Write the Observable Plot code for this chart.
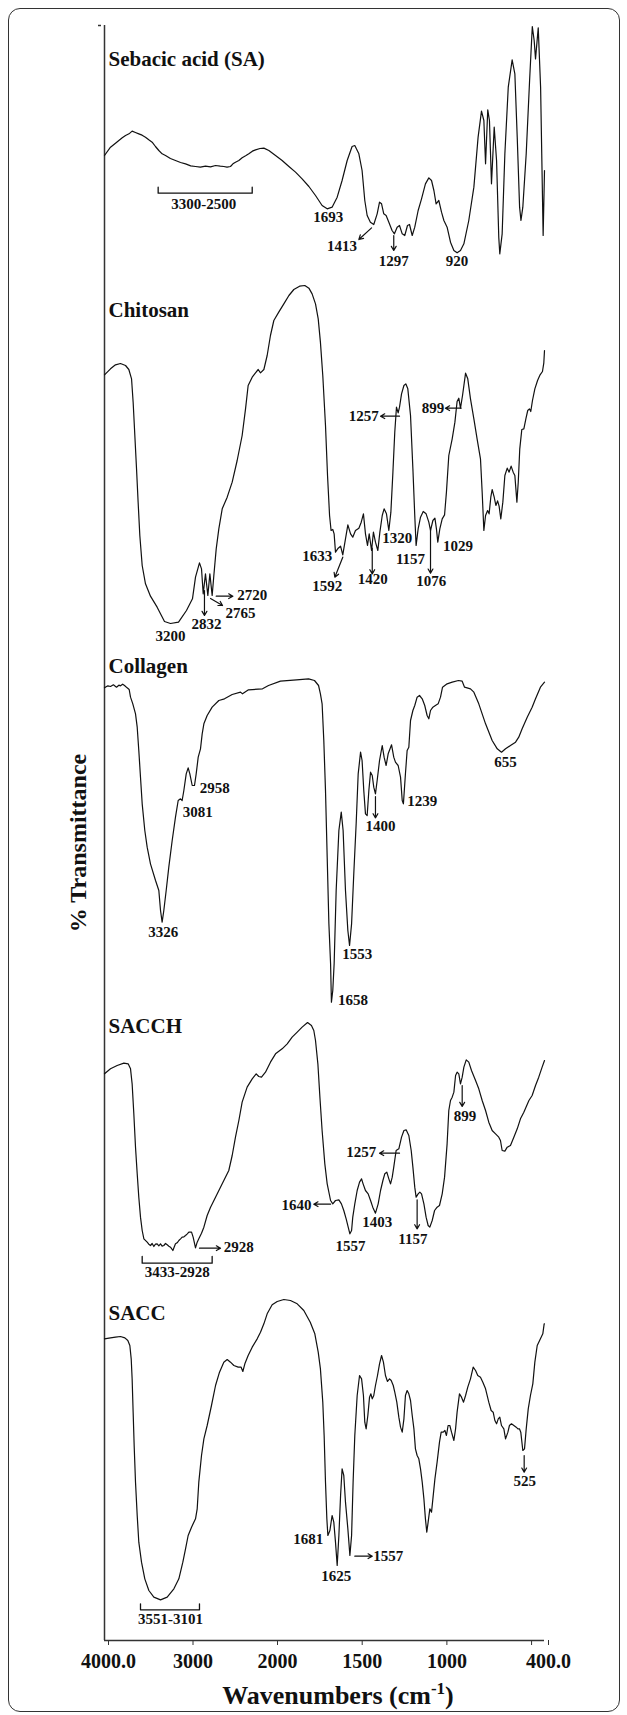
<!DOCTYPE html>
<html><head><meta charset="utf-8">
<script src="https://cdn.jsdelivr.net/npm/d3@7"></script>
<script src="https://cdn.jsdelivr.net/npm/@observablehq/plot@0.6"></script>
<style>
body{margin:0;background:#fff;}
#wrap{position:relative;width:627px;height:1715px;overflow:hidden;font-family:"Liberation Serif","Times New Roman",serif;color:#111;}
#frame{position:absolute;left:8px;top:8px;width:612px;height:1704px;box-sizing:border-box;border:1.5px solid #333;border-radius:12px;}
#ylab{position:absolute;left:78px;top:843px;transform:translate(-50%,-50%) rotate(-90deg);font-weight:bold;font-size:24px;white-space:nowrap;}
#xlab{position:absolute;left:338px;top:1683px;transform:translateX(-50%);font-weight:bold;font-size:26px;line-height:26px;white-space:nowrap;}
#xlab sup{font-size:17px;line-height:0;vertical-align:super;}
#chart svg{position:absolute;left:0;top:0;}
</style></head>
<body>
<div id="wrap">
<div id="chart"></div>
<div id="frame"></div>
<div id="ylab">% Transmittance</div>
<div id="xlab">Wavenumbers (cm<sup>-1</sup>)</div>
</div>
<script>
// Series names, vertical stacking offsets (arbitrary transmittance units) and title heights
const seriesNames = ["Sebacic acid (SA)", "Chitosan", "Collagen", "SACCH", "SACC"];
const seriesOffsets = [4140, 3090, 1980, 1065, 60];
const titleT = [585, 880, 924, 759, 903];

// x axis ticks
const xTicks = [4000, 3000, 2000, 1500, 1000, 500, 400];
const xTickLabels = ["4000.0", "3000", "2000", "1500", "1000", "", "400.0"];

// spectra: [wavenumber, relative transmittance]
const sebacicAcid = [[4000,315],[3929,340],[3870,352],[3830,360],[3790,368],[3751,375],[3710,380],[3673,388],[3634,384],[3594,380],[3555,376],[3515,370],[3476,362],[3436,355],[3397,342],[3357,330],[3318,320],[3278,315],[3220,306],[3160,300],[3100,294],[3041,290],[2980,284],[2923,282],[2865,280],[2805,283],[2745,281],[2686,285],[2630,283],[2588,282],[2550,280],[2509,282],[2480,290],[2450,295],[2410,300],[2371,308],[2330,314],[2292,320],[2250,328],[2213,332],[2160,336],[2114,337],[2055,330],[1988,315],[1949,300],[1909,282],[1870,265],[1831,245],[1791,222],[1752,195],[1713,165],[1683,155],[1654,160],[1624,190],[1595,240],[1565,300],[1536,342],[1520,345],[1496,320],[1477,270],[1461,180],[1447,135],[1428,115],[1408,108],[1388,140],[1374,175],[1362,170],[1349,140],[1335,135],[1319,115],[1300,90],[1286,80],[1270,100],[1256,105],[1240,80],[1225,75],[1209,105],[1197,108],[1181,75],[1166,100],[1146,150],[1126,185],[1103,230],[1083,248],[1067,240],[1053,210],[1040,170],[1024,180],[1008,145],[994,120],[975,100],[955,55],[935,30],[916,23],[896,30],[876,50],[847,120],[817,220],[792,370],[772,448],[758,420],[748,290],[735,452],[725,420],[713,230],[697,400],[683,300],[670,70],[664,20],[650,80],[634,320],[614,520],[591,602],[575,560],[561,370],[547,160],[539,120],[528,160],[508,320],[488,540],[472,702],[461,660],[453,605],[437,698],[423,520],[408,75],[400,270]];

const chitosan = [[4000,707],[3929,725],[3870,737],[3811,741],[3751,735],[3712,723],[3680,695],[3661,625],[3641,525],[3621,425],[3602,325],[3582,225],[3554,135],[3515,80],[3456,43],[3377,10],[3290,-33],[3219,-39],[3124,-35],[3030,0],[2959,35],[2923,100],[2876,143],[2852,125],[2832,50],[2805,110],[2777,45],[2753,110],[2726,45],[2706,105],[2678,185],[2647,245],[2607,305],[2548,340],[2489,385],[2430,450],[2371,525],[2331,605],[2300,675],[2252,700],[2213,713],[2181,723],[2154,713],[2114,723],[2075,765],[2036,825],[1998,870],[1969,895],[1939,920],[1909,945],[1880,963],[1846,973],[1815,975],[1791,967],[1772,950],[1752,920],[1736,875],[1723,805],[1709,705],[1693,555],[1681,405],[1669,285],[1660,240],[1650,243],[1642,230],[1634,175],[1618,187],[1604,193],[1591,167],[1575,215],[1561,257],[1545,230],[1532,220],[1516,240],[1496,247],[1482,265],[1469,290],[1457,230],[1445,195],[1435,230],[1421,180],[1410,235],[1398,205],[1384,180],[1372,235],[1358,285],[1347,305],[1333,290],[1319,240],[1307,295],[1295,415],[1284,535],[1274,610],[1264,593],[1256,610],[1244,650],[1230,675],[1219,680],[1207,665],[1191,585],[1177,425],[1166,285],[1158,195],[1146,245],[1132,280],[1116,297],[1099,290],[1083,265],[1073,240],[1059,270],[1047,277],[1038,245],[1030,205],[1018,245],[1004,275],[990,287],[979,355],[965,465],[945,515],[929,565],[916,627],[906,637],[896,607],[884,645],[866,712],[853,695],[837,635],[817,575],[798,515],[778,455],[768,355],[758,240],[748,285],[736,300],[727,290],[717,340],[709,363],[697,340],[687,315],[677,329],[668,313],[658,275],[646,325],[634,405],[620,427],[609,415],[597,433],[585,415],[575,405],[563,325],[555,385],[546,485],[534,543],[522,545],[510,575],[499,600],[489,605],[481,597],[471,630],[457,665],[441,690],[426,707],[412,717],[404,743],[400,780]];

const collagen = [[4000,878],[3960,884],[3929,882],[3895,887],[3858,880],[3830,886],[3811,884],[3785,889],[3763,885],[3732,878],[3708,873],[3692,850],[3665,830],[3633,800],[3613,760],[3594,690],[3574,610],[3554,530],[3523,450],[3495,400],[3456,350],[3396,300],[3357,270],[3337,210],[3318,175],[3298,210],[3270,270],[3239,340],[3199,420],[3160,490],[3128,540],[3101,545],[3081,540],[3061,570],[3033,620],[3010,638],[2990,620],[2962,585],[2935,585],[2915,620],[2891,670],[2864,695],[2844,740],[2824,770],[2785,795],[2726,820],[2647,840],[2580,845],[2489,858],[2390,865],[2367,860],[2296,872],[2130,875],[2059,885],[1959,898],[1864,902],[1793,905],[1758,900],[1734,885],[1723,860],[1713,830],[1703,720],[1693,570],[1683,370],[1673,170],[1663,50],[1658,-65],[1650,-30],[1642,50],[1630,270],[1614,450],[1600,505],[1589,450],[1575,270],[1561,150],[1551,105],[1539,170],[1526,320],[1512,470],[1500,620],[1486,685],[1477,660],[1467,570],[1457,500],[1447,495],[1437,570],[1427,625],[1417,615],[1408,580],[1398,560],[1388,600],[1374,660],[1358,705],[1347,670],[1335,645],[1323,680],[1303,707],[1290,670],[1280,655],[1264,645],[1250,610],[1240,540],[1233,530],[1221,620],[1211,690],[1201,700],[1191,780],[1177,810],[1166,825],[1152,850],[1138,855],[1122,845],[1107,825],[1093,795],[1083,785],[1073,810],[1059,820],[1044,825],[1028,830],[1014,850],[1002,880],[975,890],[945,895],[908,900],[886,898],[872,880],[837,875],[817,865],[788,830],[748,770],[709,720],[679,695],[654,685],[630,695],[601,705],[571,715],[552,730],[532,755],[502,790],[473,820],[453,845],[424,880],[400,895]];

const sacch = [[4000,635],[3929,650],[3850,660],[3771,667],[3720,665],[3692,650],[3673,605],[3653,515],[3633,415],[3613,335],[3594,265],[3574,205],[3554,165],[3534,140],[3495,130],[3476,124],[3456,120],[3436,126],[3416,117],[3397,124],[3377,125],[3357,119],[3337,125],[3318,118],[3298,120],[3278,126],[3258,122],[3238,118],[3219,115],[3191,105],[3160,125],[3140,128],[3120,135],[3100,140],[3081,145],[3060,146],[3041,150],[3020,155],[3002,160],[2970,160],[2951,145],[2923,113],[2903,130],[2884,140],[2852,157],[2824,175],[2785,210],[2745,235],[2686,265],[2607,305],[2529,345],[2489,390],[2450,445],[2410,495],[2371,550],[2312,595],[2252,620],[2205,635],[2174,627],[2142,625],[2095,640],[2036,670],[1988,695],[1949,710],[1919,725],[1890,745],[1860,760],[1831,775],[1799,789],[1776,780],[1762,765],[1752,735],[1738,665],[1726,565],[1713,465],[1697,365],[1683,305],[1663,255],[1650,245],[1634,255],[1614,257],[1599,245],[1585,225],[1571,200],[1559,175],[1549,155],[1539,165],[1532,205],[1520,245],[1506,285],[1492,310],[1480,320],[1471,305],[1457,285],[1441,275],[1427,255],[1414,235],[1398,217],[1382,245],[1368,285],[1354,315],[1343,335],[1331,340],[1319,320],[1309,305],[1299,325],[1290,355],[1276,405],[1260,410],[1244,445],[1230,465],[1217,467],[1201,450],[1187,405],[1177,355],[1166,295],[1158,265],[1146,275],[1136,280],[1126,275],[1112,245],[1099,205],[1087,180],[1077,175],[1063,195],[1049,225],[1034,235],[1020,240],[1004,275],[990,325],[975,425],[965,525],[955,555],[945,565],[935,580],[925,630],[916,640],[906,635],[896,605],[886,625],[876,655],[862,677],[847,670],[831,645],[807,615],[788,590],[768,555],[748,525],[729,490],[709,465],[689,455],[670,445],[660,435],[650,405],[634,403],[620,415],[601,420],[581,445],[561,470],[542,500],[522,520],[492,555],[473,570],[453,600],[434,625],[414,655],[400,675]];

const sacc = [[4000,845],[3929,848],[3870,850],[3811,852],[3759,848],[3724,840],[3700,825],[3684,785],[3673,725],[3661,625],[3649,525],[3633,415],[3613,315],[3594,235],[3562,175],[3523,125],[3475,90],[3416,70],[3337,62],[3258,70],[3179,95],[3120,125],[3073,175],[3041,215],[3010,255],[2970,280],[2923,305],[2903,335],[2884,415],[2852,495],[2824,545],[2785,585],[2734,645],[2686,705],[2639,745],[2588,775],[2548,783],[2509,775],[2469,765],[2418,760],[2383,760],[2363,747],[2339,770],[2300,795],[2252,820],[2193,845],[2154,865],[2114,890],[2075,920],[2016,947],[1978,957],[1939,963],[1900,960],[1860,950],[1821,930],[1783,895],[1756,860],[1736,805],[1723,755],[1709,655],[1701,555],[1693,415],[1685,305],[1679,255],[1667,270],[1654,315],[1644,295],[1634,235],[1624,165],[1614,255],[1604,375],[1595,455],[1585,435],[1575,355],[1561,275],[1549,195],[1539,255],[1530,415],[1520,555],[1506,675],[1492,735],[1480,725],[1469,675],[1461,595],[1453,575],[1443,615],[1433,670],[1425,680],[1417,665],[1408,675],[1398,705],[1386,735],[1374,770],[1362,795],[1351,775],[1339,735],[1327,717],[1315,725],[1305,720],[1293,705],[1284,685],[1272,655],[1260,610],[1250,580],[1240,565],[1230,605],[1221,675],[1211,690],[1201,680],[1191,660],[1181,615],[1171,575],[1162,515],[1152,495],[1142,485],[1132,455],[1122,415],[1112,365],[1103,305],[1095,265],[1087,295],[1077,335],[1067,325],[1059,365],[1047,425],[1034,475],[1020,535],[1010,565],[998,565],[988,570],[979,555],[969,585],[959,585],[949,565],[935,540],[925,575],[916,625],[902,680],[890,670],[878,655],[866,675],[853,700],[837,725],[821,760],[807,750],[794,735],[778,730],[764,715],[748,695],[729,655],[715,630],[703,625],[693,600],[683,590],[673,605],[664,610],[654,585],[640,575],[630,545],[616,565],[607,585],[595,590],[581,585],[567,580],[557,575],[548,575],[540,565],[528,510],[518,515],[508,575],[496,635],[483,675],[469,710],[457,775],[443,825],[424,845],[410,860],[402,890],[400,890]];

// peak labels: [series index, wavenumber, relative T (baseline), text]
const peakLabels = [
  [0, 2824, 155, "3300-2500"], [0, 1677, 115, "1693"], [0, 1595, 28, "1413"], [0, 1290, -15, "1297"], [0, 916, -15, "920"],
  [1, 1467, 568, "1257"], [1, 1059, 593, "899"], [1, 1742, 148, "1633"], [1, 1683, 60, "1592"], [1, 1414, 80, "1420"],
  [1, 1270, 202, "1320"], [1, 1191, 140, "1157"], [1, 1069, 75, "1076"], [1, 910, 180, "1029"], [1, 2252, 33, "2720"],
  [1, 2390, -21, "2765"], [1, 2793, -54, "2832"], [1, 3219, -90, "3200"],
  [2, 2694, 562, "2958"], [2, 2895, 492, "3081"], [2, 3306, 132, "3326"], [2, 1506, 65, "1553"], [2, 1530, -72, "1658"],
  [2, 1368, 450, "1400"], [2, 1122, 523, "1239"], [2, 630, 642, "655"],
  [3, 870, 495, "899"], [3, 1482, 385, "1257"], [3, 1864, 228, "1640"], [3, 1545, 105, "1557"], [3, 1388, 175, "1403"],
  [3, 1177, 125, "1157"], [3, 2410, 100, "2928"], [3, 3140, 25, "3433-2928"],
  [4, 516, 405, "525"], [4, 1795, 230, "1681"], [4, 1630, 120, "1625"], [4, 1323, 178, "1557"], [4, 3219, -9, "3551-3101"]
];

// arrows: [series index, wn start, T start, wn end, T end]
const peakArrows = [
  [0, 1421, 98, 1496, 63], [0, 1290, 75, 1290, 30],
  [1, 1256, 583, 1368, 583], [1, 892, 607, 985, 607], [1, 1591, 160, 1638, 100], [1, 1417, 187, 1417, 110],
  [1, 1073, 243, 1073, 112], [1, 2678, 43, 2481, 43], [1, 2745, 36, 2603, 15], [1, 2817, 60, 2817, -15],
  [2, 1398, 552, 1398, 488],
  [3, 886, 600, 886, 537], [3, 1256, 397, 1374, 397], [3, 1663, 244, 1762, 244], [3, 1152, 257, 1152, 170], [3, 2876, 112, 2627, 112],
  [4, 520, 495, 520, 445], [4, 1520, 193, 1417, 193]
];

// range brackets: [series index, wn from, wn to, T of bar, end height]
const brackets = [[0, 3365, 2252, 202, 18], [3, 3554, 2726, 67, 20], [4, 3574, 2876, 32, 18]];

const yMax = 4845;
const spectra = [sebacicAcid, chitosan, collagen, sacch, sacc];
const rows = spectra.flatMap((pts, i) => pts.map(([wn, t]) => ({s: seriesNames[i], wn, T: seriesOffsets[i] + t})));
const titles = seriesNames.map((name, i) => ({name, wn: 3953, T: seriesOffsets[i] + titleT[i]}));
const bracketRows = brackets.flatMap(([s, a, b, t, h], k) => [
  {k, wn: a, T: seriesOffsets[s] + t + h}, {k, wn: a, T: seriesOffsets[s] + t},
  {k, wn: b, T: seriesOffsets[s] + t}, {k, wn: b, T: seriesOffsets[s] + t + h}
]);
const tickLabel = new Map(xTicks.map((d, i) => [d, xTickLabels[i]]));

const chart = Plot.plot({
  width: 627,
  height: 1715,
  marginLeft: 104,
  marginRight: 83,
  marginTop: 25,
  marginBottom: 75,
  style: {fontFamily: "'Liberation Serif', 'Times New Roman', serif", fontWeight: "bold", color: "#111", background: "transparent"},
  x: {type: "linear", domain: [4000, 2000, 400], range: [104, 273, 544]},
  y: {domain: [0, yMax], axis: null},
  marks: [
    Plot.ruleX([4000], {y1: 0, y2: yMax, stroke: "#333", strokeWidth: 1.5}),
    Plot.ruleY([0], {x1: 4000, x2: 400, stroke: "#333", strokeWidth: 1.5}),
    Plot.ruleY([yMax], {x1: 4000, x2: 4000, dx: -3, insetLeft: -3, stroke: "#333", strokeWidth: 1.5}),
    Plot.axisX({ticks: xTicks, tickFormat: d => tickLabel.get(d), tickSize: 5, tickPadding: 8, fontSize: 20, fontWeight: "bold", label: null, dx: 4, stroke: "#333"}),
    Plot.line(rows, {x: "wn", y: "T", z: "s", stroke: "#111", strokeWidth: 1.2, strokeLinejoin: "round"}),
    Plot.line(bracketRows, {x: "wn", y: "T", z: "k", stroke: "#111", strokeWidth: 1.3}),
    Plot.arrow(peakArrows, {x1: d => d[1], y1: d => seriesOffsets[d[0]] + d[2], x2: d => d[3], y2: d => seriesOffsets[d[0]] + d[4], stroke: "#111", strokeWidth: 1.2, headLength: 6}),
    Plot.text(titles, {x: "wn", y: "T", text: "name", textAnchor: "start", lineAnchor: "bottom", fontSize: 21, fontWeight: "bold", fill: "#111"}),
    Plot.text(peakLabels, {x: d => d[1], y: d => seriesOffsets[d[0]] + d[2], text: d => d[3], textAnchor: "middle", lineAnchor: "bottom", fontSize: 15, fontWeight: "bold", fill: "#111"})
  ]
});
document.getElementById("chart").appendChild(chart);
</script>
</body></html>
